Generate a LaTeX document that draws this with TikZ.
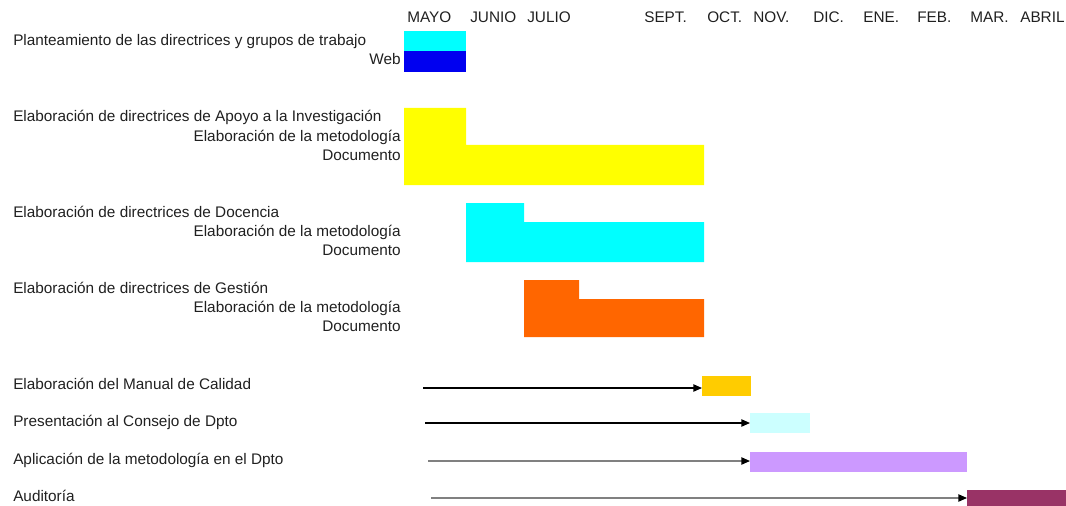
\documentclass[tikz,border=0pt]{standalone}
\usepackage{fontspec}
\setmainfont{Liberation Sans}
\usetikzlibrary{arrows.meta}
\definecolor{cCyan}{HTML}{00FFFF}
\definecolor{cBlue}{HTML}{0000F0}
\definecolor{cYellow}{HTML}{FFFF00}
\definecolor{cOrange}{HTML}{FF6600}
\definecolor{cGold}{HTML}{FFCC00}
\definecolor{cLightCyan}{HTML}{CCFFFF}
\definecolor{cPurple}{HTML}{CC99FF}
\definecolor{cMaroon}{HTML}{993366}
\definecolor{cGrayLine}{HTML}{808080}
\definecolor{cText}{HTML}{202020}
\begin{document}
\begin{tikzpicture}[x=0.75pt,y=-0.75pt,
  lbl/.style={inner sep=0pt, text=cText, font=\fontsize{11.5}{13}\selectfont, text height=8.3pt, text depth=2.4pt},
  lw/.style={lbl, anchor=west},
  le/.style={lbl, anchor=east},
  arr/.style={line width=1pt, -{Triangle[length=6.5pt,width=5.5pt,black]}}]
\useasboundingbox (0,0) rectangle (1066,506);

% month header
\node[lw] (m1) at (407,19) {MAYO};
\node[lw] (m2) at (470,19) {JUNIO};
\node[lw] (m3) at (527,19) {JULIO};
\node[lw] (m4) at (644,19) {SEPT.};
\node[lw] (m5) at (707,19) {OCT.};
\node[lw] (m6) at (753,19) {NOV.};
\node[lw] (m7) at (813,19) {DIC.};
\node[lw] (m8) at (863,19) {ENE.};
\node[lw] (m9) at (917,19) {FEB.};
\node[lw] (m10) at (970,19) {MAR.};
\node[lw] (m11) at (1020,19) {ABRIL};

% labels
\node[lw] (t1) at (13,42) {Planteamiento de las directrices y grupos de trabajo};
\node[le] (t1a) at (401,61) {Web};
\node[lw] (t2) at (13,118) {Elaboración de directrices de Apoyo a la Investigación};
\node[le] (t2a) at (401,138) {Elaboración de la metodología};
\node[le] (t2b) at (401,157) {Documento};
\node[lw] (t3) at (13,214) {Elaboración de directrices de Docencia};
\node[le] (t3a) at (401,233) {Elaboración de la metodología};
\node[le] (t3b) at (401,252) {Documento};
\node[lw] (t4) at (13,290) {Elaboración de directrices de Gestión};
\node[le] (t4a) at (401,309) {Elaboración de la metodología};
\node[le] (t4b) at (401,328) {Documento};
\node[lw] (t5) at (13,386) {Elaboración del Manual de Calidad};
\node[lw] (t6) at (13,423) {Presentación al Consejo de Dpto};
\node[lw] (t7) at (13,461) {Aplicación de la metodología en el Dpto};
\node[lw] (t8) at (13,498) {Auditoría};

% bars
\fill[cCyan] (404,31) rectangle (466,51);
\fill[cBlue] (404,51) rectangle (466,72);
\fill[cYellow] (404,108) -- (466,108) -- (466,145) -- (704,145) -- (704,185) -- (404,185) -- cycle;
\fill[cCyan] (466,203) -- (524,203) -- (524,222) -- (704,222) -- (704,262) -- (466,262) -- cycle;
\fill[cOrange] (524,280) -- (579,280) -- (579,299) -- (704,299) -- (704,337) -- (524,337) -- cycle;
\fill[cGold] (702,376) rectangle (751,396);
\fill[cLightCyan] (750,413) rectangle (810,433);
\fill[cPurple] (750,452) rectangle (967,472);
\fill[cMaroon] (967,490) rectangle (1068,508);

% arrows
\coordinate (s1) at (423,388); \coordinate (e1) at (702,388);
\coordinate (s2) at (425,423); \coordinate (e2) at (750,423);
\coordinate (s3) at (428,461); \coordinate (e3) at (750,461);
\coordinate (s4) at (431,498); \coordinate (e4) at (967,498);
\draw[arr] (s1) -- (e1);
\draw[arr] (s2) -- (e2);
\draw[arr, cGrayLine] (s3) -- (e3);
\draw[arr, cGrayLine] (s4) -- (e4);
\end{tikzpicture}
\end{document}
